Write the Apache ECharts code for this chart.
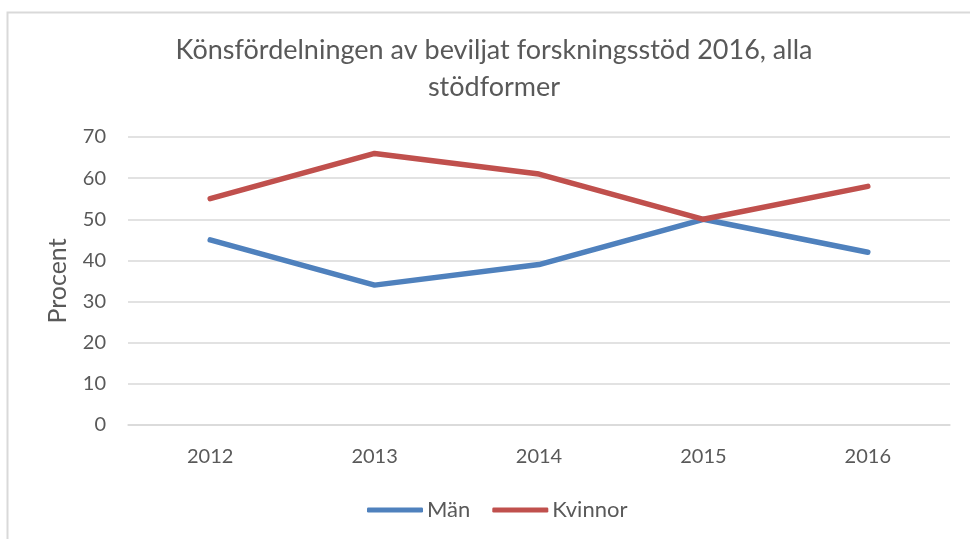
<!DOCTYPE html>
<html>
<head>
<meta charset="utf-8">
<script src="https://cdn.jsdelivr.net/npm/echarts@6/dist/echarts.min.js"></script>
<style>
  html, body { margin: 0; padding: 0; background: #fff; }
  #chart { width: 970px; height: 539px; }
</style>
</head>
<body>
<div id="chart"></div>
<script>
// data
const years = ['2012', '2013', '2014', '2015', '2016']
const man = [45, 34, 39, 50, 42]
const kvinnor = [55, 66, 61, 50, 58]
const yTicks = [0, 70, 10] // min, max, interval

const textColor = '#595959'
const font = 'Lato'

const chart = echarts.init(document.getElementById('chart'))
chart.setOption({
  textStyle: { fontFamily: font },
  graphic: [{
    type: 'rect',
    shape: { x: 7.5, y: 12.5, width: 1000, height: 1000 },
    style: { fill: 'none', stroke: '#d9d9d9', lineWidth: 2 },
    silent: true
  }],
  title: {
    text: 'Könsfördelningen av beviljat forskningsstöd 2016, alla\nstödformer',
    left: 489,
    textAlign: 'center',
    top: 27,
    textStyle: {
      fontFamily: font,
      fontSize: 27,
      fontWeight: 'normal',
      color: textColor,
      lineHeight: 37
    }
  },
  legend: {
    bottom: 13,
    left: 362,
    padding: 5,
    itemWidth: 56,
    itemHeight: 5,
    itemGap: 22,
    icon: 'roundRect',
    textStyle: { fontFamily: font, fontSize: 22, color: textColor, padding: [0, 0, 0, -1] },
    data: ['Män', 'Kvinnor']
  },
  grid: {
    left: 128,
    right: 20,
    top: 137,
    bottom: 114
  },
  xAxis: {
    type: 'category',
    data: years,
    boundaryGap: true,
    axisLine: { show: true, lineStyle: { color: '#d9d9d9', width: 1.5 } },
    axisTick: { show: false },
    axisLabel: { color: textColor, fontSize: 20, margin: 22, fontFamily: font }
  },
  yAxis: {
    type: 'value',
    min: yTicks[0],
    max: yTicks[1],
    interval: yTicks[2],
    name: 'Procent',
    nameLocation: 'middle',
    nameGap: 58,
    nameRotate: 90,
    nameTextStyle: { color: textColor, fontSize: 25, fontFamily: font },
    axisLine: { show: false },
    axisTick: { show: false },
    axisLabel: { color: textColor, fontSize: 20, margin: 22, fontFamily: font },
    splitLine: { lineStyle: { color: '#d9d9d9', width: 1.5 } }
  },
  series: [
    {
      name: 'Män',
      type: 'line',
      data: man,
      showSymbol: false,
      symbol: 'none',
      color: '#4f81bd',
      lineStyle: { width: 5.5, color: '#4f81bd', cap: 'round', join: 'round' },
      animation: false
    },
    {
      name: 'Kvinnor',
      type: 'line',
      data: kvinnor,
      showSymbol: false,
      symbol: 'none',
      color: '#c0504d',
      lineStyle: { width: 5.5, color: '#c0504d', cap: 'round', join: 'round' },
      animation: false
    }
  ]
})
</script>
</body>
</html>
